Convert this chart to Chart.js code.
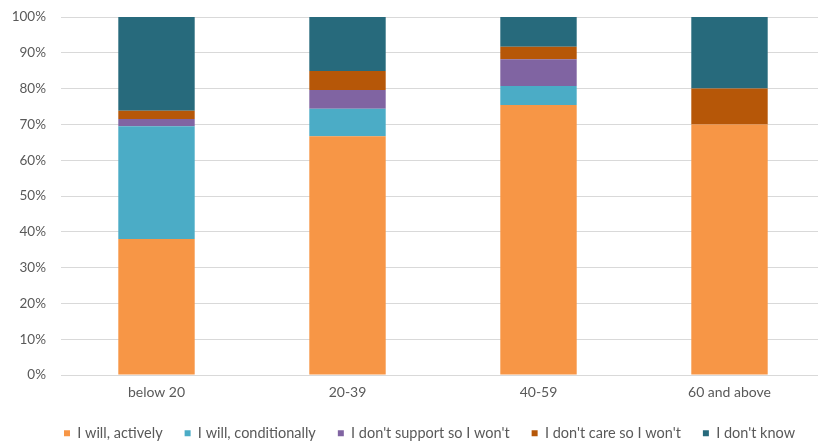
<!DOCTYPE html>
<html>
<head>
<meta charset="utf-8">
<script src="https://cdn.jsdelivr.net/npm/chart.js@4/dist/chart.umd.min.js"></script>
<style>
  html, body { margin: 0; padding: 0; background: #ffffff; overflow: hidden; }
  #wrap { width: 825px; height: 441px; }
</style>
</head>
<body>
<div id="wrap"><canvas id="c" width="825" height="441"></canvas></div>
<script>
// Age groups on the x axis
const ageGroups = ["below 20", "20-39", "40-59", "60 and above"];

// Share of answers (%) per age group
const willActively      = [38.0, 66.7, 75.4, 70.0];
const willConditionally = [31.5,  7.7,  5.3,  0.0];
const dontSupport       = [ 2.0,  5.2,  7.5,  0.0];
const dontCare          = [ 2.3,  5.3,  3.5, 10.0];
const dontKnow          = [26.2, 15.1,  8.3, 20.0];

const seriesNames = ["I will, actively", "I will, conditionally", "I don't support so I won't", "I don't care so I won't", "I don't know"];
const seriesColors = ["#F79646", "#4BACC6", "#8064A2", "#B65708", "#276A7C"];
const seriesValues = [willActively, willConditionally, dontSupport, dontCare, dontKnow];

const yTicks = [0, 10, 20, 30, 40, 50, 60, 70, 80, 90, 100];

const textColor = "#595959";
const fontFamily = "Lato, 'Open Sans', sans-serif";

// Nudge the legend row a little to the right of the canvas centre
const legendShift = {
  id: "legendShift",
  afterLayout(chart) {
    const lg = chart.legend;
    if (lg) { lg.left += 17; lg.right += 17; }
  }
};

new Chart(document.getElementById("c"), {
  type: "bar",
  data: {
    labels: ageGroups,
    datasets: seriesNames.map((name, i) => ({
      label: name,
      data: seriesValues[i],
      backgroundColor: seriesColors[i],
      borderWidth: 0,
      barPercentage: 1.0,
      categoryPercentage: 0.4
    }))
  },
  plugins: [legendShift],
  options: {
    responsive: false,
    animation: false,
    layout: { padding: { top: 17, left: 0, right: 0, bottom: 0 } },
    plugins: {
      tooltip: { enabled: false },
      legend: {
        position: "bottom",
        maxHeight: 37,
        labels: {
          color: textColor,
          font: { family: fontFamily, size: 14.5 },
          boxWidth: 6,
          boxHeight: 6,
          padding: 22
        }
      }
    },
    scales: {
      x: {
        stacked: true,
        afterFit: (scale) => { scale.height = 29; },
        grid: { display: false, drawTicks: false },
        border: { display: false },
        ticks: { color: textColor, font: { family: fontFamily, size: 14 }, padding: 9 }
      },
      y: {
        stacked: true,
        min: 0,
        max: 100,
        afterBuildTicks: (scale) => { scale.ticks = yTicks.map(v => ({ value: v })); },
        afterFit: (scale) => { scale.width = 61; },
        grid: { color: "#D9D9D9", drawTicks: true, tickLength: 15, tickColor: "rgba(0,0,0,0)" },
        border: { display: false },
        ticks: {
          color: textColor,
          font: { family: fontFamily, size: 13.5 },
          padding: 0,
          callback: (v) => v + "%"
        }
      }
    }
  }
});
</script>
</body>
</html>
